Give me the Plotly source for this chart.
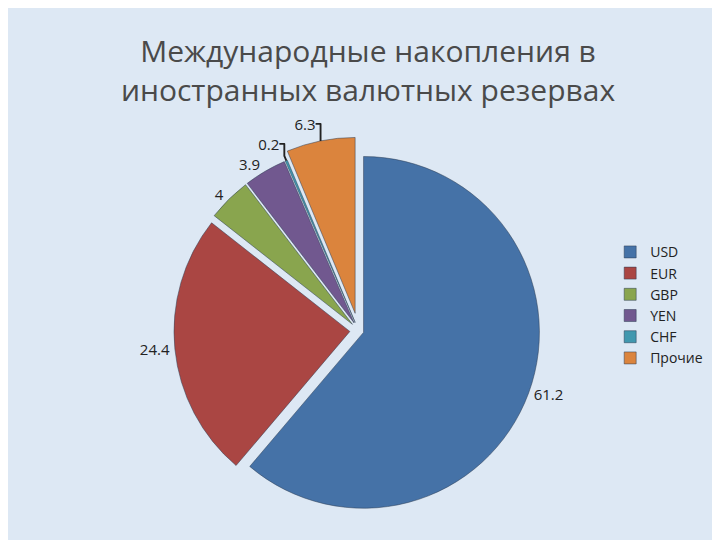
import plotly.graph_objects as go

labels = ["USD", "EUR", "GBP", "YEN", "CHF", "Прочие"]
values = [61.2, 24.4, 4, 3.9, 0.2, 6.3]
colors = ["#4572A7", "#AA4643", "#89A54E", "#71588F", "#4198AF", "#DB843D"]
pulls = [0.03, 0.05, 0.05, 0.05, 0.05, 0.1]

fig = go.Figure(go.Pie(
    labels=labels, values=values, sort=False, direction="clockwise", rotation=0,
    marker=dict(colors=colors, line=dict(color="#2a3a50", width=0.5)),
    pull=pulls, textinfo="value", textposition="outside",
    textfont=dict(size=15, color="#222"),
    domain=dict(x=[0.0, 0.80], y=[0.0, 0.78]),
))
fig.update_layout(
    width=720, height=540,
    paper_bgcolor="#dde8f4",
    font=dict(family="Open Sans"),
    title=dict(text="Международные накопления в<br>иностранных валютных резервах",
               x=0.5, y=0.90, xanchor="center", yanchor="middle",
               font=dict(size=30, color="#4a4a4a")),
    margin=dict(l=10, r=10, t=20, b=10),
    legend=dict(x=0.82, y=0.58, xanchor="left", yanchor="top",
                font=dict(size=14, color="#222"), bgcolor="rgba(0,0,0,0)"),
)
fig.write_html("out.html")
